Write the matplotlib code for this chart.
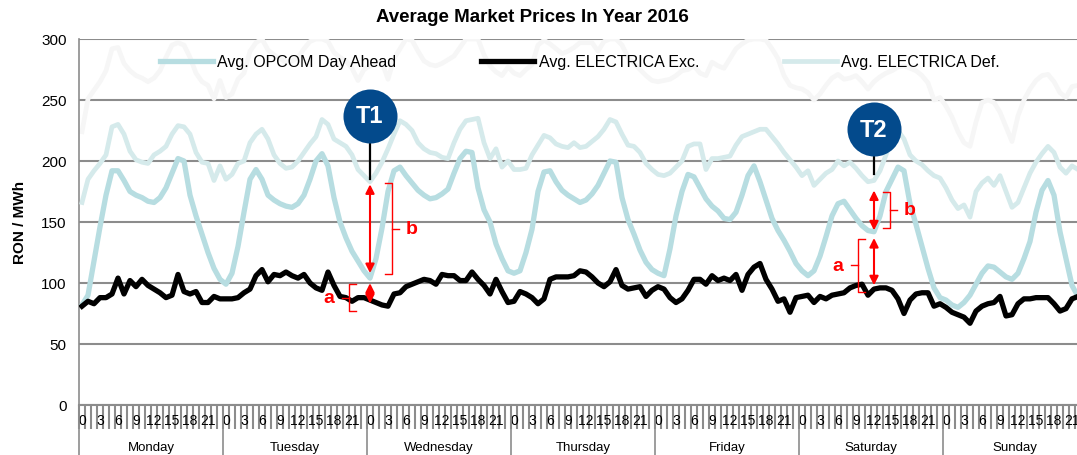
import matplotlib
matplotlib.use('Agg')
import matplotlib.pyplot as plt
import numpy as np

plt.rcParams['font.family'] = ['Liberation Sans', 'DejaVu Sans']

days = ['Monday', 'Tuesday', 'Wednesday', 'Thursday', 'Friday', 'Saturday', 'Sunday']
hour_labels = ['0', '3', '6', '9', '12', '15', '18', '21']

# hourly averages, RON / MWh (Monday 0h ... Sunday 23h)
opcom = [82, 90, 118, 146, 172, 192, 192, 184, 175, 172, 170, 167, 166, 170, 178, 190, 202, 200, 172, 155, 140, 125, 112, 103,
         99, 108, 130, 158, 185, 193, 185, 172, 168, 165, 163, 162, 165, 172, 185, 200, 206, 196, 170, 150, 137, 126, 118, 110,
         104, 120, 145, 175, 192, 195, 188, 182, 176, 172, 169, 170, 173, 177, 190, 202, 208, 207, 178, 160, 150, 132, 120, 110,
         108, 110, 125, 144, 175, 191, 192, 183, 176, 172, 169, 166, 168, 173, 180, 190, 200, 199, 170, 152, 140, 127, 117, 111,
         108, 106, 128, 155, 175, 189, 187, 178, 169, 163, 159, 153, 152, 158, 172, 188, 196, 183, 168, 153, 143, 135, 126, 116,
         110, 106, 110, 122, 138, 155, 165, 167, 160, 153, 147, 143, 142, 155, 175, 185, 195, 192, 165, 148, 130, 112, 96, 88,
         86, 82, 80, 84, 90, 99, 108, 114, 113, 109, 105, 103, 108, 120, 134, 158, 176, 184, 172, 142, 120, 98, 89, 86]

exc = [81, 85, 83, 88, 88, 91, 104, 91, 102, 97, 103, 98, 95, 92, 88, 90, 107, 93, 91, 93, 84, 84, 89, 87,
       87, 87, 88, 92, 95, 106, 111, 101, 107, 106, 109, 106, 104, 107, 100, 96, 94, 109, 98, 89, 88, 85, 88, 88,
       86, 84, 82, 81, 91, 92, 97, 99, 101, 103, 102, 99, 107, 106, 106, 102, 102, 109, 103, 98, 91, 103, 93, 84,
       85, 93, 91, 88, 83, 87, 103, 105, 105, 105, 106, 110, 109, 105, 100, 97, 101, 111, 98, 95, 96, 97, 89, 94,
       97, 95, 88, 84, 87, 94, 103, 103, 99, 106, 102, 104, 102, 107, 94, 107, 113, 116, 103, 95, 85, 87, 76, 88,
       89, 90, 84, 89, 87, 90, 91, 92, 96, 98, 99, 90, 95, 96, 96, 94, 87, 75, 86, 91, 92, 92, 81, 83,
       80, 76, 74, 72, 67, 77, 81, 83, 84, 89, 73, 74, 83, 87, 87, 88, 88, 88, 83, 77, 79, 87, 89, 88]

deflt = [166, 185, 192, 198, 205, 228, 230, 222, 208, 201, 199, 198, 205, 208, 212, 222, 229, 228, 222, 207, 199, 198, 184, 196,
         185, 189, 198, 200, 215, 222, 226, 218, 205, 198, 194, 195, 200, 207, 214, 220, 234, 230, 218, 215, 212, 205, 193, 188,
         183, 190, 199, 210, 222, 233, 230, 225, 215, 210, 207, 206, 203, 202, 215, 226, 233, 234, 235, 215, 202, 210, 195, 200,
         193, 193, 194, 205, 213, 221, 219, 214, 212, 211, 215, 211, 212, 216, 220, 226, 234, 232, 222, 213, 212, 207, 198, 193,
         189, 188, 190, 195, 200, 212, 214, 214, 193, 202, 202, 203, 204, 213, 220, 222, 224, 226, 226, 220, 214, 207, 201, 195,
         188, 192, 180, 185, 190, 193, 200, 196, 199, 194, 188, 183, 184, 192, 205, 218, 225, 218, 205, 200, 197, 192, 188, 186,
         178, 168, 161, 164, 154, 175, 182, 186, 180, 188, 175, 162, 166, 178, 190, 199, 206, 212, 207, 195, 190, 196, 193, 195]

upper = [224, 251, 258, 265, 274, 292, 293, 280, 274, 270, 268, 265, 268, 274, 285, 295, 297, 295, 285, 272, 265, 262, 251, 266,
         252, 255, 267, 272, 290, 297, 300, 291, 287, 284, 281, 282, 285, 292, 298, 300, 300, 298, 289, 285, 282, 276, 266, 275,
         278, 280, 281, 267, 284, 292, 300, 299, 290, 282, 279, 278, 280, 283, 286, 293, 300, 300, 300, 287, 278, 273, 270, 277,
         272, 270, 275, 279, 295, 299, 296, 292, 288, 290, 293, 297, 297, 297, 290, 298, 300, 300, 295, 285, 280, 275, 270, 266,
         265, 266, 267, 270, 274, 275, 278, 272, 270, 281, 278, 276, 284, 292, 296, 299, 300, 300, 299, 292, 284, 270, 262, 260,
         259, 256, 250, 255, 262, 268, 271, 267, 268, 270, 265, 259, 265, 269, 272, 274, 277, 278, 276, 274, 270, 264, 250, 252,
         245, 236, 224, 215, 212, 232, 248, 250, 248, 240, 228, 216, 237, 250, 259, 266, 270, 271, 265, 256, 252, 261, 262, 263]

W, H = 1077, 456
GRAY = '#8c8c8c'
fig = plt.figure(figsize=(W / 100, H / 100), dpi=100)
ax = fig.add_axes([79 / W, 50 / H, 1008 / W, 366 / H])

x = np.arange(len(opcom)) + 0.5
ax.plot(x, upper, color='#f6f6f6', lw=3.4, zorder=2)
l_def, = ax.plot(x, deflt, color='#d5eaeb', lw=3.4, zorder=3, label='Avg. ELECTRICA Def.')
l_op, = ax.plot(x, opcom, color='#b7dde1', lw=3.8, zorder=4, label='Avg. OPCOM Day Ahead')
l_exc, = ax.plot(x, exc, color='black', lw=3.8, zorder=5, label='Avg. ELECTRICA Exc.')

ax.set_xlim(0, len(opcom))
ax.set_ylim(0, 300)
ax.set_yticks(range(0, 301, 50))
ax.yaxis.grid(True, color=GRAY, lw=1.5)
ax.set_axisbelow(True)
for s in ['top', 'right']:
    ax.spines[s].set_visible(False)
ax.spines['left'].set_color(GRAY)
ax.spines['left'].set_linewidth(1.2)
ax.spines['bottom'].set_color(GRAY)
ax.spines['bottom'].set_linewidth(1.5)
ax.tick_params(axis='y', length=0, pad=9, labelsize=11)

# hour category boundaries and labels
ax.set_xticks(np.arange(0, len(opcom) + 1))
ax.set_xticklabels([])
ax.tick_params(axis='x', which='major', length=17.3, width=1.5, color=GRAY)
ax.set_xticks(np.arange(0, len(opcom), 3) + 0.5, minor=True)
ax.set_xticklabels(hour_labels * len(days), minor=True)
ax.tick_params(axis='x', which='minor', length=0, pad=6, labelsize=10)

# day labels and separators
tr = ax.get_xaxis_transform()
ax.vlines(np.arange(0, len(opcom) + 1, 24), -50 / 366, 0, transform=tr,
          color=GRAY, lw=1.2, clip_on=False)
for i, d in enumerate(days):
    ax.text(24 * i + 12, -42 / 366, d, transform=tr, ha='center', va='center', fontsize=9.5)

ax.legend([l_op, l_exc, l_def], [l_op.get_label(), l_exc.get_label(), l_def.get_label()],
          loc='center left', bbox_to_anchor=(160 / W, 1 - 63 / H), bbox_transform=fig.transFigure,
          ncol=3, frameon=False, fontsize=11.5, handlelength=3.3, handletextpad=0.3,
          columnspacing=5.3, borderpad=0, borderaxespad=0)

fig.text(532 / W, 1 - 17 / H, 'Average Market Prices In Year 2016', ha='center', va='center',
         fontsize=13.5, fontweight='bold')
fig.text(20 / W, 1 - 222 / H, 'RON / MWh', rotation=90, ha='center', va='center',
         fontsize=11, fontweight='bold')

# callouts
PX = len(opcom) / 1008.0  # hours per pixel
RED = '#ff0000'


def arrow(xc, v0, v1):
    ax.annotate('', xy=(xc, v0), xytext=(xc, v1),
                arrowprops=dict(arrowstyle='<|-|>', color=RED, lw=1.5, mutation_scale=13,
                                shrinkA=1, shrinkB=1), zorder=9)


def bracket(xc, off, v0, v1, label):
    side = 1 if off > 0 else -1
    xv = xc + off * PX
    xin = xv - side * 7 * PX
    xout = xv + side * 7 * PX
    vm = (v0 + v1) / 2
    kw = dict(color=RED, lw=1, zorder=9, clip_on=False)
    ax.plot([xin, xv, xv, xin], [v0, v0, v1, v1], **kw)
    ax.plot([xv, xout], [vm, vm], **kw)
    ax.text(xv + side * 20 * PX, vm, label, color=RED, fontsize=14, fontweight='bold',
            ha='center', va='center', zorder=9)


def marker(xc, vc, v_top, v_bot, label):
    ax.plot([xc, xc], [v_top, v_bot], color='black', lw=1.6, zorder=9)
    ax.scatter([xc], [vc], s=1513, color='#034a8c', zorder=10, clip_on=False, linewidths=0)
    ax.text(xc, vc, label, color='white', fontsize=17, fontweight='bold',
            ha='center', va='center', zorder=11)


h1, h2 = 48, 132
x1, x2 = h1 + 0.5, h2 + 0.5
marker(x1, 237, 215, 185, 'T1')
arrow(x1, deflt[h1] - 1, opcom[h1] + 3)
arrow(x1, opcom[h1] - 3, exc[h1] - 4)
bracket(x1, 22, deflt[h1] - 1, opcom[h1] + 3, 'b')
bracket(x1, -21, opcom[h1] - 5, exc[h1] - 9, 'a')

marker(x2, 226, 204, 189, 'T2')
arrow(x2, deflt[h2] - 7, opcom[h2])
arrow(x2, opcom[h2] - 4, exc[h2] + 2)
bracket(x2, 16, deflt[h2] - 9, opcom[h2] + 3, 'b')
bracket(x2, -16, opcom[h2] - 6, exc[h2] - 2, 'a')

fig.savefig('out.png', dpi=100)
